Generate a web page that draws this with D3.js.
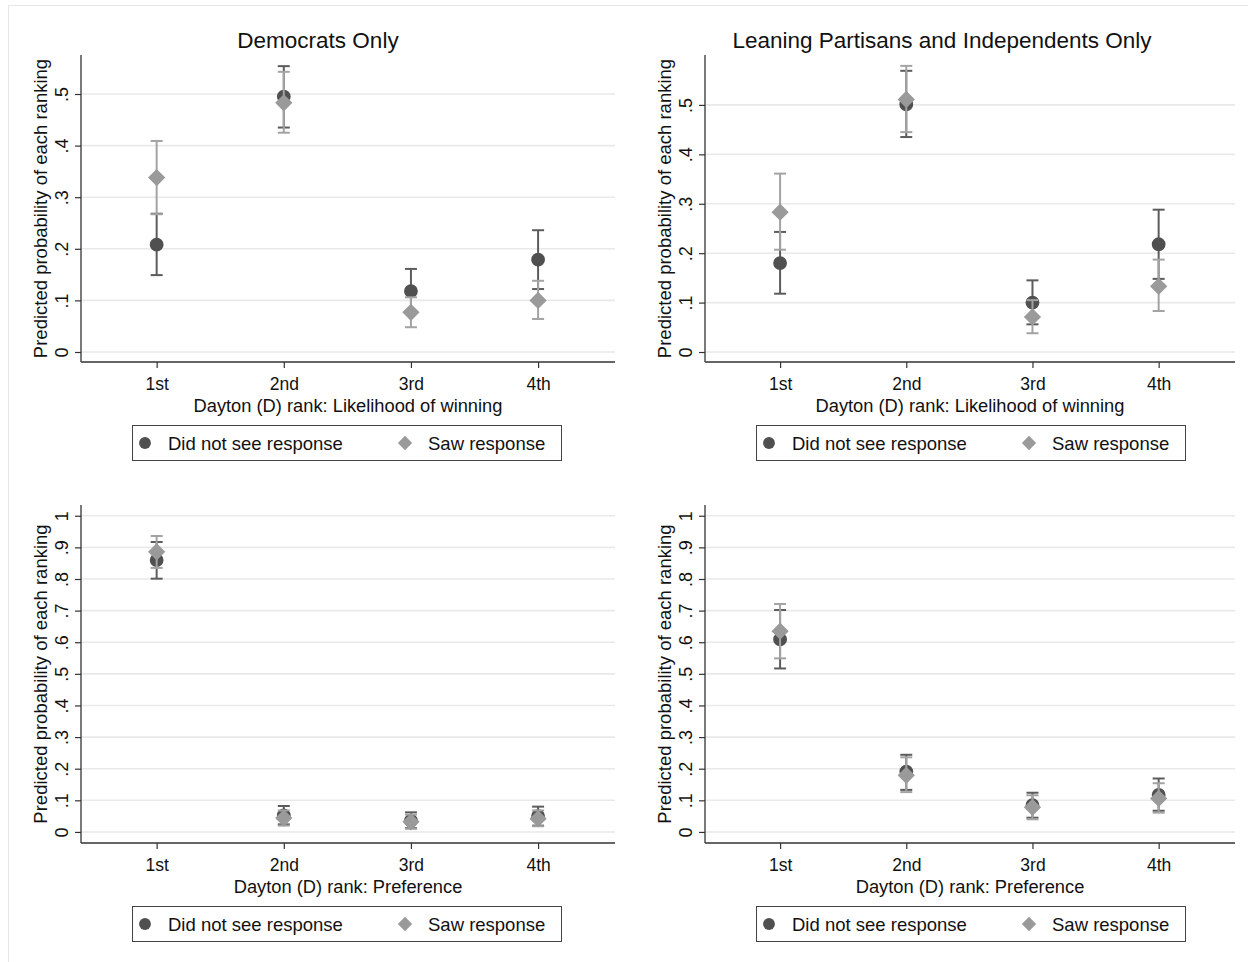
<!DOCTYPE html>
<html>
<head>
<meta charset="utf-8">
<script src="https://cdn.jsdelivr.net/npm/d3@7"></script>
<style>
  body { margin: 0; background: #fff; }
  svg { font-family: "Liberation Sans", Arial, sans-serif; }
</style>
</head>
<body>
<svg id="chart" width="1248" height="962"></svg>
<script>
// categories and labels
const ranks = [1, 2, 3, 4];
const rankLabels = ["1st", "2nd", "3rd", "4th"];
const panelTitles = ["Democrats Only", "Leaning Partisans and Independents Only", "", ""];
const xTitles = [
  "Dayton (D) rank: Likelihood of winning",
  "Dayton (D) rank: Likelihood of winning",
  "Dayton (D) rank: Preference",
  "Dayton (D) rank: Preference"
];
const yTitle = "Predicted probability of each ranking";
const legendLabels = ["Did not see response", "Saw response"];
const yTicksTop = [0, 0.1, 0.2, 0.3, 0.4, 0.5];
const yTicksBottom = [0, 0.1, 0.2, 0.3, 0.4, 0.5, 0.6, 0.7, 0.8, 0.9, 1];
const yDomains = [[-0.0194, 0.5756], [-0.0202, 0.601], [-0.035, 1.034], [-0.035, 1.034]];

// did not see response (circle): estimate, lower, upper
const notSeenEst = [[0.208, 0.495, 0.118, 0.179], [0.180, 0.501, 0.100, 0.218], [0.860, 0.052, 0.036, 0.050], [0.609, 0.191, 0.085, 0.117]];
const notSeenLo  = [[0.149, 0.435, 0.075, 0.122], [0.118, 0.435, 0.056, 0.148], [0.801, 0.024, 0.012, 0.020], [0.517, 0.133, 0.045, 0.067]];
const notSeenHi  = [[0.268, 0.554, 0.161, 0.236], [0.243, 0.569, 0.145, 0.288], [0.917, 0.082, 0.062, 0.080], [0.702, 0.244, 0.124, 0.169]];
// saw response (diamond)
const sawEst = [[0.338, 0.483, 0.077, 0.100], [0.283, 0.511, 0.071, 0.133], [0.886, 0.044, 0.032, 0.042], [0.635, 0.179, 0.078, 0.106]];
const sawLo  = [[0.267, 0.425, 0.048, 0.064], [0.207, 0.445, 0.038, 0.083], [0.835, 0.020, 0.010, 0.018], [0.549, 0.126, 0.040, 0.061]];
const sawHi  = [[0.409, 0.543, 0.106, 0.138], [0.361, 0.579, 0.105, 0.187], [0.936, 0.068, 0.055, 0.068], [0.721, 0.236, 0.116, 0.154]];

const svg = d3.select("#chart");

// faint outer border of the graph region
svg.append("path")
  .attr("d", "M8.5,962 V5.5 H1248")
  .attr("fill", "none")
  .attr("stroke", "#e6e6e6")
  .attr("stroke-width", 1);

const colLeft = [81, 705], colRight = [615, 1235];
const rowTop = [55, 505], rowBottom = [362, 843];

const darkCol = "#505050", lightCol = "#9a9a9a";
const darkBar = "#5c5c5c", lightBar = "#a3a3a3";

const fmtTick = d => d === 0 ? "0" : d === 1 ? "1" : d3.format(".1f")(d).replace("0.", ".");

for (let p = 0; p < 4; p++) {
  const col = p % 2, row = Math.floor(p / 2);
  const L = colLeft[col], R = colRight[col], T = rowTop[row], B = rowBottom[row];

  const x = d3.scaleLinear().domain([0.405, 4.605]).range([L, R]);
  const y = d3.scaleLinear().domain(yDomains[p]).range([B, T]);
  const yTicks = row === 0 ? yTicksTop : yTicksBottom;

  const g = svg.append("g").attr("class", "panel-" + p);

  // gridlines
  g.append("g").selectAll("line")
    .data(yTicks)
    .join("line")
    .attr("x1", L).attr("x2", R)
    .attr("y1", d => y(d)).attr("y2", d => y(d))
    .attr("stroke", "#e9e9e9")
    .attr("stroke-width", 1.6);

  // y axis
  const yAxis = g.append("g")
    .attr("transform", `translate(${L},0)`)
    .call(d3.axisLeft(y).tickValues(yTicks).tickSize(6).tickFormat(fmtTick));
  yAxis.select(".domain").attr("d", `M0,${T}V${B}`).attr("stroke", "#333").attr("stroke-width", 1.3);
  yAxis.selectAll(".tick line").attr("stroke", "#333").attr("stroke-width", 1.2);
  yAxis.selectAll(".tick text")
    .attr("x", null).attr("dy", null)
    .attr("text-anchor", "middle")
    .attr("dominant-baseline", "central")
    .attr("transform", "translate(-19,0) rotate(-90)")
    .attr("fill", "#111")
    .style("font-size", "18px");

  // x axis
  const xAxis = g.append("g")
    .attr("transform", `translate(0,${B})`)
    .call(d3.axisBottom(x).tickValues(ranks).tickSize(6).tickFormat((d, i) => rankLabels[i]));
  xAxis.select(".domain").attr("d", `M${L},0H${R}`).attr("stroke", "#333").attr("stroke-width", 1.3);
  xAxis.selectAll(".tick line").attr("stroke", "#333").attr("stroke-width", 1.2);
  xAxis.selectAll(".tick text")
    .attr("y", 22).attr("dy", "0.32em")
    .attr("fill", "#111")
    .style("font-size", "17.5px");

  // axis titles
  g.append("text")
    .attr("x", (L + R) / 2).attr("y", B + 43)
    .attr("text-anchor", "middle")
    .attr("dominant-baseline", "central")
    .style("font-size", "18.3px")
    .attr("fill", "#111")
    .text(xTitles[p]);

  g.append("text")
    .attr("transform", `translate(${L - 41},${(T + B) / 2}) rotate(-90)`)
    .attr("text-anchor", "middle")
    .attr("dominant-baseline", "central")
    .style("font-size", "18.5px")
    .attr("fill", "#111")
    .text(yTitle);

  if (panelTitles[p]) {
    g.append("text")
      .attr("x", (L + R) / 2 - (col === 0 ? 30 : 28)).attr("y", 40)
      .attr("text-anchor", "middle")
      .attr("dominant-baseline", "central")
      .style("font-size", "22.5px")
      .attr("fill", "#111")
      .text(panelTitles[p]);
  }

  const series = [
    { est: notSeenEst[p], lo: notSeenLo[p], hi: notSeenHi[p], color: darkCol, bar: darkBar, shape: d3.symbolCircle, size: 150 },
    { est: sawEst[p], lo: sawLo[p], hi: sawHi[p], color: lightCol, bar: lightBar, shape: d3.symbolDiamond2, size: 190 }
  ];

  series.forEach(s => {
    const sg = g.append("g");
    const rows = ranks.map((r, i) => ({ r, est: s.est[i], lo: s.lo[i], hi: s.hi[i] }));
    // error bars
    sg.selectAll("line.ci")
      .data(rows).join("line").attr("class", "ci")
      .attr("x1", d => x(d.r)).attr("x2", d => x(d.r))
      .attr("y1", d => y(d.lo)).attr("y2", d => y(d.hi))
      .attr("stroke", s.bar).attr("stroke-width", 2);
    ["lo", "hi"].forEach(k => {
      sg.selectAll("line.cap-" + k)
        .data(rows).join("line").attr("class", "cap-" + k)
        .attr("x1", d => x(d.r) - 6).attr("x2", d => x(d.r) + 6)
        .attr("y1", d => y(d[k])).attr("y2", d => y(d[k]))
        .attr("stroke", s.bar).attr("stroke-width", 2);
    });
    // markers
    sg.selectAll("path.pt")
      .data(rows).join("path").attr("class", "pt")
      .attr("transform", d => `translate(${x(d.r)},${y(d.est)})`)
      .attr("d", d3.symbol(s.shape, s.size))
      .attr("fill", s.color);
  });

  // legend
  const lgX = L + 51, lgY = B + 63;
  const lg = g.append("g").attr("transform", `translate(${lgX},${lgY})`);
  lg.append("rect")
    .attr("x", 0.5).attr("y", 0.5)
    .attr("width", 429).attr("height", 35)
    .attr("fill", "#fff")
    .attr("stroke", "#444").attr("stroke-width", 1);
  const legItems = [
    { label: legendLabels[0], shape: d3.symbolCircle, size: 110, color: darkCol, mx: 13, tx: 36 },
    { label: legendLabels[1], shape: d3.symbolDiamond2, size: 130, color: lightCol, mx: 273, tx: 296 }
  ];
  legItems.forEach(it => {
    lg.append("path")
      .attr("transform", `translate(${it.mx},18)`)
      .attr("d", d3.symbol(it.shape, it.size))
      .attr("fill", it.color);
    lg.append("text")
      .attr("x", it.tx).attr("y", 18)
      .attr("dominant-baseline", "central")
      .style("font-size", "18.5px")
      .attr("fill", "#111")
      .text(it.label);
  });
}
</script>
</body>
</html>
